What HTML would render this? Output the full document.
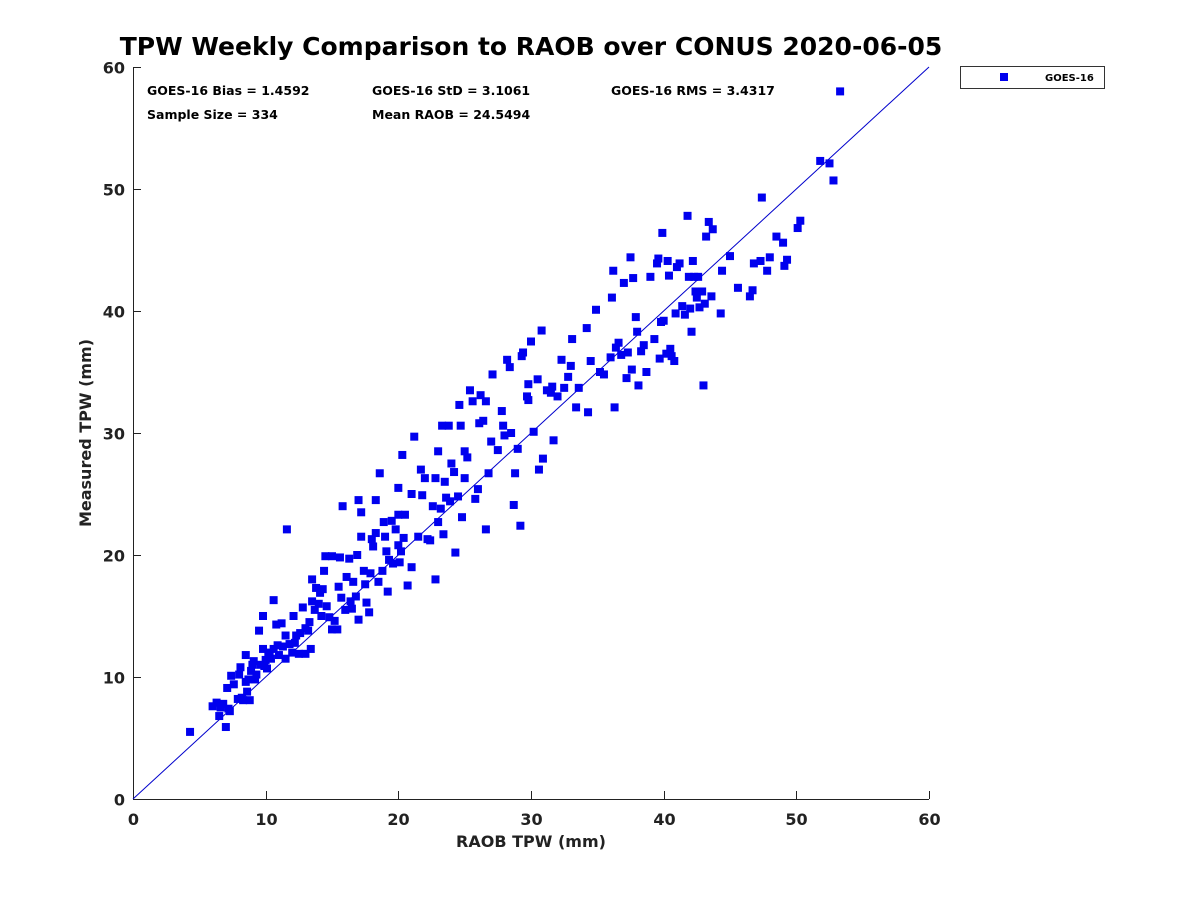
<!DOCTYPE html>
<html><head><meta charset="utf-8"><style>body{margin:0;background:#fff}svg{display:block}text{font-family:"DejaVu Sans","Liberation Sans",sans-serif;font-weight:bold;fill:#222}</style></head>
<body>
<svg id="chart" width="1200" height="900" viewBox="0 0 1200 900">
<text x="531" y="55" text-anchor="middle" font-size="25" style="fill:#000">TPW Weekly Comparison to RAOB over CONUS 2020-06-05</text>
<g id="axes"></g>
<g id="marks"></g>
<text x="147" y="95" font-size="12.5" style="fill:#000">GOES-16 Bias = 1.4592</text>
<text x="372" y="95" font-size="12.5" style="fill:#000">GOES-16 StD = 3.1061</text>
<text x="611" y="95" font-size="12.5" style="fill:#000">GOES-16 RMS = 3.4317</text>
<text x="147" y="119" font-size="12.5" style="fill:#000">Sample Size = 334</text>
<text x="372" y="119" font-size="12.5" style="fill:#000">Mean RAOB = 24.5494</text>
<g>
<rect x="960.5" y="66.5" width="144" height="22" fill="#fff" stroke="#333" stroke-width="1"/>
<rect x="1000" y="73" width="8" height="8" fill="#0000ee"/>
<text x="1045" y="81" font-size="10" style="fill:#000">GOES-16</text>
</g>
<text x="531" y="847" text-anchor="middle" font-size="16">RAOB TPW (mm)</text>
<text transform="translate(91,433) rotate(-90)" text-anchor="middle" font-size="16">Measured TPW (mm)</text>
</svg>
<script>
const xTicks=[0,10,20,30,40,50,60];
const yTicks=[0,10,20,30,40,50,60];
const raobX=[4.3,6,6.3,6.5,6.6,6.8,7,7.1,7.2,7.3,7.4,7.6,7.9,8,8.1,8.3,8.5,8.5,8.6,8.7,8.8,8.9,9,9.1,9.3,9.5,9.6,9.8,9.8,9.9,10,10.1,10.3,10.4,10.6,10.6,10.8,10.9,11,11.2,11.3,11.5,11.6,11.8,12,12.1,12.3,12.5,12.6,12.8,13,13,13.3,13.4,13.5,13.5,13.7,13.8,14,14.2,14.3,14.4,14.5,14.6,14.8,15,15,15.2,15.4,15.5,15.6,15.7,15.8,16,16.1,16.3,16.4,16.5,16.6,16.8,16.9,17,17,17.2,17.2,17.4,17.5,17.6,17.8,17.9,18,18.1,18.3,18.3,18.5,18.6,18.8,18.9,19,19.1,19.2,19.3,19.5,19.6,19.8,20,20,20,20.1,20.2,20.3,20.4,20.5,20.7,21,21,21.2,21.5,21.7,21.8,22,22.2,22.4,22.6,22.8,22.8,23,23,23.2,23.3,23.4,23.5,23.6,23.8,23.9,24,24.2,24.3,24.5,24.6,24.7,24.8,25,25,25.2,25.4,25.6,25.8,26,26.1,26.2,26.4,26.6,26.6,26.8,27,27.1,27.5,27.8,27.9,28,28.2,28.4,28.5,28.7,28.8,29,29.2,29.3,29.4,29.7,29.8,29.8,30,30.2,30.5,30.6,30.8,30.9,31.2,31.5,31.6,31.7,32,32.3,32.5,32.8,33,33.1,33.4,33.6,34.2,34.3,34.5,34.9,35.2,35.5,36,36.1,36.2,36.3,36.4,36.6,36.8,37,37.2,37.3,37.5,37.6,37.7,37.9,38,38.1,38.3,38.5,38.7,39,39.3,39.5,39.6,39.7,39.8,39.9,40,40.2,40.3,40.4,40.5,40.6,40.8,40.9,41,41.2,41.4,41.6,41.8,41.9,42,42.1,42.2,42.3,42.4,42.5,42.6,42.7,42.9,43.1,43.2,43.4,43.6,43.7,43,44.3,44.4,45,45.6,46.5,46.7,46.8,47.3,47.4,47.8,48,48.5,49,49.1,49.3,50.1,50.3,51.8,52.5,52.8,53.3,11.5,12.2,10.2,9.2,8.2,14.1,13.2];
const measuredY=[5.5,7.6,7.9,6.8,7.5,7.8,5.9,9.1,7.4,7.2,10.1,9.4,8.2,10.2,10.8,8.1,9.6,11.8,8.8,9.8,8.1,10.5,11,11.3,10.2,13.8,11,15,12.3,10.9,11.4,10.7,12,11.5,12.3,16.3,14.3,12.6,11.8,14.4,12.5,13.4,22.1,12.7,12,15,13.4,11.9,13.6,15.7,14,11.9,14.5,12.3,16.2,18,15.5,17.3,16,15,17.2,18.7,19.9,15.8,14.9,13.9,19.9,14.6,13.9,17.4,19.8,16.5,24,15.5,18.2,19.7,16.2,15.6,17.8,16.6,20,14.7,24.5,23.5,21.5,18.7,17.6,16.1,15.3,18.5,21.3,20.7,21.8,24.5,17.8,26.7,18.7,22.7,21.5,20.3,17,19.6,22.8,19.3,22.1,23.3,20.8,25.5,19.4,20.3,28.2,21.4,23.3,17.5,25,19,29.7,21.5,27,24.9,26.3,21.3,21.2,24,26.3,18,28.5,22.7,23.8,30.6,21.7,26,24.7,30.6,24.4,27.5,26.8,20.2,24.8,32.3,30.6,23.1,26.3,28.5,28,33.5,32.6,24.6,25.4,30.8,33.1,31,32.6,22.1,26.7,29.3,34.8,28.6,31.8,30.6,29.8,36,35.4,30,24.1,26.7,28.7,22.4,36.3,36.6,33,34,32.7,37.5,30.1,34.4,27,38.4,27.9,33.5,33.3,33.8,29.4,33,36,33.7,34.6,35.5,37.7,32.1,33.7,38.6,31.7,35.9,40.1,35,34.8,36.2,41.1,43.3,32.1,37,37.4,36.4,42.3,34.5,36.6,44.4,35.2,42.7,39.5,38.3,33.9,36.7,37.2,35,42.8,37.7,43.9,44.3,36.1,39.1,46.4,39.2,36.5,44.1,42.9,36.9,36.3,35.9,39.8,43.6,43.9,40.4,39.7,47.8,42.8,40.2,38.3,44.1,42.8,41.6,41.1,42.8,40.3,41.6,40.6,46.1,47.3,41.2,46.7,33.9,39.8,43.3,44.5,41.9,41.2,41.7,43.9,44.1,49.3,43.3,44.4,46.1,45.6,43.7,44.2,46.8,47.4,52.3,52.1,50.7,58,11.5,12.8,11.8,9.8,8.3,16.9,13.8];
const NS='http://www.w3.org/2000/svg';
const X0=133,X1=929,Y0=799,Y1=67;
function sx(v){return X0+(v-0)/60*(X1-X0);}
function sy(v){return Y0-(v-0)/60*(Y0-Y1);}
function mk(tag,attrs,parent){const e=document.createElementNS(NS,tag);for(const k in attrs)e.setAttribute(k,attrs[k]);parent.appendChild(e);return e;}
const axes=document.getElementById('axes');
const marks=document.getElementById('marks');
const ax=mk('line',{x1:X0,y1:Y0+0.5,x2:X1,y2:Y0+0.5,stroke:'#222','stroke-width':1},axes);


const ay=mk('line',{x1:X0+0.5,y1:Y0,x2:X0+0.5,y2:Y1,stroke:'#222','stroke-width':1},axes);


xTicks.forEach(t=>{
  const x=Math.round(sx(t))+0.5;
  const l=mk('line',{x1:x,y1:Y0,x2:x,y2:Y0-8,stroke:'#222'},axes);
  
  
  const tx=mk('text',{x:x,y:Y0+26,'text-anchor':'middle','font-size':16},axes);
  tx.textContent=t;
  
  
});
yTicks.forEach(t=>{
  const y=Math.round(sy(t))+0.5;
  const l=mk('line',{x1:X0,y1:y,x2:X0+8,y2:y,stroke:'#222'},axes);
  
  
  const tx=mk('text',{x:X0-8,y:y+6,'text-anchor':'end','font-size':16},axes);
  tx.textContent=t;
  
  
});
const ref=mk('line',{x1:sx(0),y1:sy(0),x2:sx(60),y2:sy(60),stroke:'#0000cc','stroke-width':1},marks);


raobX.forEach((v,i)=>{
  const r=mk('rect',{x:sx(v)-4,y:sy(measuredY[i])-4,width:8,height:8,fill:'#0000ee'},marks);
  
  
});
</script>
</body></html>
